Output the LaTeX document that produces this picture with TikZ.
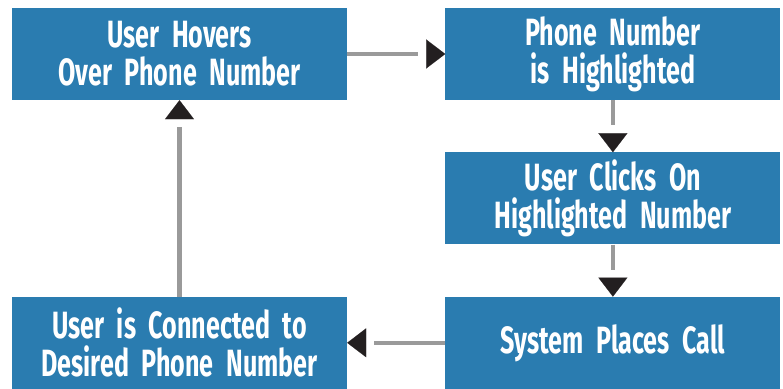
\documentclass[tikz,border=0pt]{standalone}
\usepackage{fontspec}
\setmainfont{Fira Sans}[FakeStretch=0.66,WordSpace=0.6]
\usetikzlibrary{arrows.meta,positioning,decorations.markings}
\definecolor{boxblue}{HTML}{2A7CB0}
\definecolor{linegray}{HTML}{9A9A9A}
\definecolor{tipblack}{HTML}{231F20}
\tikzstyle{block} = [rectangle, fill=boxblue, text=white, text width=325pt, text centered, minimum width=335pt, minimum height=92pt, inner sep=0pt, font=\fontsize{38}{38}\selectfont\bfseries]
\tikzstyle{flow} = [draw=linegray, line width=4.5pt, shorten >=27pt,
    decoration={markings, mark=at position 1 with {\arrow{Triangle[length=19pt,width=29pt,line width=0.1pt,color=tipblack,fill=tipblack]}}},
    postaction={decorate, shorten >=0pt}]

\begin{document}
\begin{tikzpicture}[node distance=52pt and 98pt]
    \useasboundingbox (0,0) rectangle (783pt,-388pt);
    \node [block] (hover) at (179.5pt,-54pt) {User Hovers\\Over Phone Number};
    \node [block, right=of hover] (highlight) {Phone Number\\is Highlighted};
    \node [block, below=of highlight] (click) {User Clicks On\\Highlighted Number};
    \node [block, below=of click] (call) {System Places Call};
    \node [block, left=of call] (connected) {User is Connected to\\Desired Phone Number};

    \draw[flow] (hover) -- (highlight);
    \draw[flow] (highlight) -- (click);
    \draw[flow] (click) -- (call);
    \draw[flow] (call) -- (connected);
    \draw[flow] (connected) -- (hover);
\end{tikzpicture}
\end{document}
